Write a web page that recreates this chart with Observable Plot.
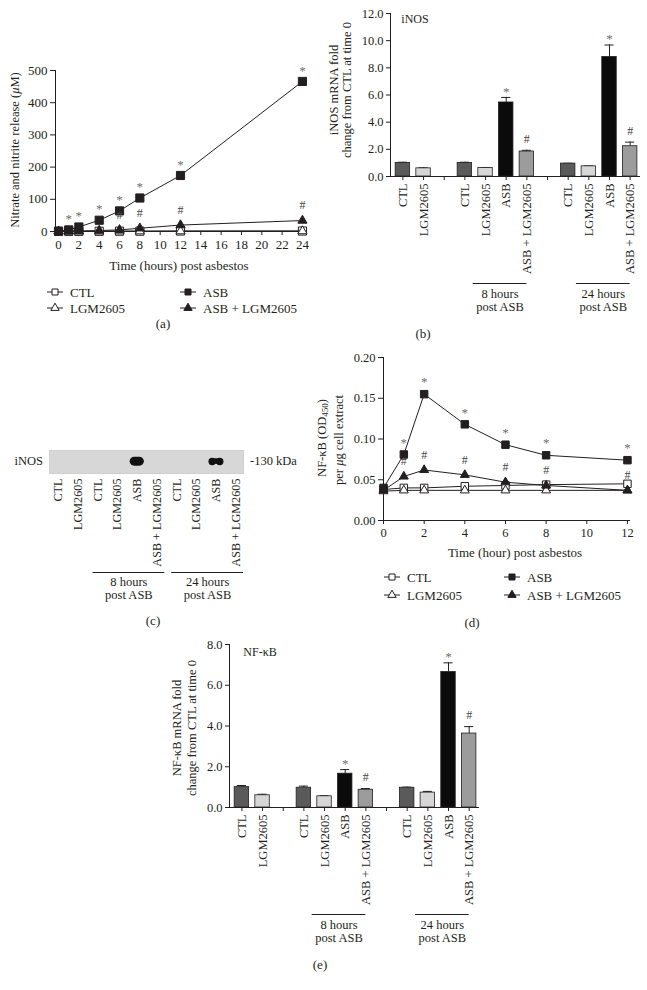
<!DOCTYPE html>
<html>
<head>
<meta charset="utf-8">
<script src="https://cdn.jsdelivr.net/npm/d3@7"></script>
<script src="https://cdn.jsdelivr.net/npm/@observablehq/plot@0.6"></script>
<style>
  html, body { margin: 0; padding: 0; background: #fff; }
  #root { position: relative; width: 647px; height: 990px; overflow: hidden; background: #fff;
          font-family: "Liberation Serif", "Times New Roman", serif; color: #231f20; }
  .lbl { position: absolute; white-space: nowrap; line-height: 1; font-size: 12.5px; }
</style>
</head>
<body>
<div id="root"></div>
<script>
// ================= DATA =================
const seriesNames = ["CTL", "LGM2605", "ASB", "ASB + LGM2605"];

// (a) Nitrate and nitrite release (µM)
const aHours = [0, 1, 2, 4, 6, 8, 12, 24];
const aCTL = [0.5, 0.5, 0.5, 0.8, 1, 1, 1.5, 1.5];
const aLGM = [0.5, 0.5, 0.5, 0.5, 0.8, 1, 1, 1.2];
const aASB = [1, 5, 14, 35, 64, 104, 174, 466];
const aASBLGM = [0.5, 1, 1.5, 3, 5, 10, 20, 34];
const aASBSig = ["", "*", "*", "*", "*", "*", "*", "*"];
const aASBLGMSig = ["", "", "", "", "#", "#", "#", "#"];
const aXTicks = [0, 2, 4, 6, 8, 10, 12, 14, 16, 18, 20, 22, 24];
const aYTicks = [0, 100, 200, 300, 400, 500];

// (b) iNOS mRNA fold change, (e) NF-kB mRNA fold change
const slotCats = ["CTL", "LGM2605", null, "CTL", "LGM2605", "ASB", "ASB + LGM2605", null, "CTL", "LGM2605", "ASB", "ASB + LGM2605"];
const barBrackets = [
  {label: "8 hours\npost ASB", start: 3, end: 6},
  {label: "24 hours\npost ASB", start: 8, end: 11}
];
const inosValues = [1.0, 0.6, null, 1.0, 0.62, 5.45, 1.84, null, 0.95, 0.75, 8.8, 2.23];
const inosErrors = [0.05, 0.04, null, 0.05, 0.04, 0.37, 0.09, null, 0.02, 0.03, 0.88, 0.3];
const inosSig = ["", "", null, "", "", "*", "#", null, "", "", "*", "#"];
const inosYTicks = [0, 2, 4, 6, 8, 10, 12];

const nfkbValues = [1.0, 0.6, null, 0.97, 0.55, 1.66, 0.87, null, 0.97, 0.73, 6.65, 3.63];
const nfkbErrors = [0.08, 0.05, null, 0.08, 0.03, 0.2, 0.06, null, 0.03, 0.06, 0.45, 0.34];
const nfkbSig = ["", "", null, "", "", "*", "#", null, "", "", "*", "#"];
const nfkbYTicks = [0, 2, 4, 6, 8];

// (c) western blot
const blotLanes = ["CTL", "LGM2605", "CTL", "LGM2605", "ASB", "ASB + LGM2605", "CTL", "LGM2605", "ASB", "ASB + LGM2605"];
const blotBand = ["", "", "", "", "oval", "", "", "", "double", ""];
const blotBrackets = [
  {label: "8 hours\npost ASB", start: 2, end: 5},
  {label: "24 hours\npost ASB", start: 6, end: 9}
];

// (d) NF-kB (OD450) per µg cell extract
const dHours = [0, 1, 2, 4, 6, 8, 12];
const dCTL = [0.038, 0.040, 0.040, 0.042, 0.043, 0.044, 0.045];
const dLGM = [0.036, 0.037, 0.037, 0.037, 0.037, 0.037, 0.037];
const dASB = [0.040, 0.081, 0.155, 0.118, 0.093, 0.080, 0.074];
const dASBLGM = [0.037, 0.054, 0.062, 0.056, 0.047, 0.043, 0.037];
const dASBSig = ["", "*", "*", "*", "*", "*", "*"];
const dASBLGMSig = ["", "#", "#", "#", "#", "#", "#"];
const dXTicks = [0, 2, 4, 6, 8, 10, 12];
const dYTicks = [0, 0.05, 0.10, 0.15, 0.20];

// ================= STYLE =================
const INK = "#231f20";
const FONT = '"Liberation Serif", "Times New Roman", serif';
const styleOf = size => `font-family: ${FONT}; font-size: ${size}; color: ${INK}; background: transparent; overflow: visible;`;
const catColors = {"CTL": "#5a5a5a", "LGM2605": "#d6d6d6", "ASB": "#0b0b0b", "ASB + LGM2605": "#9c9c9c"};
const seriesStyle = {
  "CTL": {symbol: "square", fill: "#ffffff"},
  "LGM2605": {symbol: "triangle", fill: "#ffffff"},
  "ASB": {symbol: "square", fill: INK},
  "ASB + LGM2605": {symbol: "triangle", fill: INK}
};

const root = document.getElementById("root");
function place(node, left, top) {
  node.style.position = "absolute";
  node.style.left = left + "px";
  node.style.top = top + "px";
  root.appendChild(node);
}
function label(html, x, y, opts = {}) {
  const d = document.createElement("div");
  d.className = "lbl";
  d.innerHTML = html;
  d.style.left = x + "px";
  d.style.top = y + "px";
  const ax = opts.anchor === "start" ? "0" : opts.anchor === "end" ? "-100%" : "-50%";
  d.style.transform = `translate(${ax},-50%)` + (opts.rotate ? ` rotate(${opts.rotate}deg)` : "");
  if (opts.size) d.style.fontSize = opts.size + "px";
  root.appendChild(d);
}
function legendItem(x, y, name, text) {
  const st = seriesStyle[name];
  const w = 16, h = 12;
  const svg = d3.create("svg").attr("width", w).attr("height", h).style("overflow", "visible");
  svg.append("line").attr("x1", 0).attr("x2", w).attr("y1", h / 2).attr("y2", h / 2).attr("stroke", INK);
  svg.append("path")
    .attr("transform", `translate(${w / 2},${h / 2})`)
    .attr("d", d3.symbol(st.symbol === "square" ? d3.symbolSquare : d3.symbolTriangle, st.symbol === "square" ? 36 : 30)())
    .attr("fill", st.fill).attr("stroke", INK);
  place(svg.node(), x - w / 2, y - h / 2);
  label(text, x + 15, y, {anchor: "start", size: 13});
}

// ================= LINE PANELS =================
function linePanel(cfg) {
  const rows = seriesNames.flatMap((name, k) => cfg.times.map((t, i) => ({
    series: name, t, v: cfg.values[k][i], sig: cfg.sigs[k] ? cfg.sigs[k][i] : ""
  })));
  const marks = [
    Plot.ruleX([cfg.xDomain[0]], {stroke: INK}),
    Plot.ruleY([cfg.yDomain[0]], {stroke: INK}),
    Plot.line(rows, {x: "t", y: "v", z: "series", stroke: INK, strokeWidth: 1})
  ];
  for (const name of ["CTL", "LGM2605", "ASB + LGM2605", "ASB"]) {
    const st = seriesStyle[name];
    marks.push(Plot.dot(rows.filter(d => d.series === name), {
      x: "t", y: "v", symbol: st.symbol, r: st.symbol === "square" ? cfg.rSquare : cfg.rTri,
      fill: st.fill, stroke: INK, strokeWidth: 1
    }));
  }
  marks.push(Plot.text(rows.filter(d => d.sig === "*"), {x: "t", y: "v", text: "sig", dy: cfg.starDy, fill: "#6e6e6e", fontSize: 13}));
  marks.push(Plot.text(rows.filter(d => d.sig === "#"), {x: "t", y: "v", text: "sig", dy: cfg.hashDy, fill: "#444", fontSize: 12}));
  return Plot.plot({
    width: cfg.width, height: cfg.height,
    marginLeft: cfg.ml, marginRight: cfg.mr, marginTop: cfg.mt, marginBottom: cfg.mb,
    style: styleOf(cfg.font),
    x: {domain: cfg.xDomain, ticks: cfg.xTicks, tickSize: 4, tickPadding: 4, label: null},
    y: {domain: cfg.yDomain, ticks: cfg.yTicks, tickFormat: cfg.yFormat, tickSize: 5, tickPadding: 3, label: null},
    marks
  });
}

// ================= BAR PANELS =================
const slotTicks = d3.range(slotCats.length);
const barXDomain = [-0.6, 11.5];
function barPanel(cfg) {
  const rows = cfg.values.map((v, i) => ({slot: i, v, e: cfg.errors[i], sig: cfg.sig[i], cat: slotCats[i]}))
    .filter(d => d.v != null);
  return Plot.plot({
    width: cfg.width, height: cfg.height,
    marginLeft: cfg.ml, marginRight: cfg.mr, marginTop: cfg.mt, marginBottom: cfg.mb,
    style: styleOf("12.5px"),
    color: {type: "identity"},
    x: {domain: barXDomain, ticks: slotTicks, tickFormat: i => slotCats[i] ?? "", tickRotate: -90, tickSize: 4, tickPadding: 3, label: null},
    y: {domain: [0, cfg.yMax], ticks: cfg.yTicks, tickFormat: d3.format(".1f"), tickSize: 4, tickPadding: 3, label: null},
    marks: [
      Plot.ruleX([barXDomain[0]], {stroke: INK}),
      Plot.ruleY([0], {stroke: INK}),
      Plot.ruleX(rows, {x: "slot", y1: "v", y2: d => d.v + d.e, stroke: INK}),
      Plot.ruleY(rows, {y: d => d.v + d.e, x1: d => d.slot - 0.22, x2: d => d.slot + 0.22, stroke: INK}),
      Plot.rect(rows, {x1: d => d.slot - 0.35, x2: d => d.slot + 0.35, y1: () => 0, y2: "v",
        fill: d => catColors[d.cat], stroke: INK, strokeWidth: 0.8}),
      Plot.text(rows.filter(d => d.sig === "*"), {x: "slot", y: d => d.v + d.e, text: "sig", dy: -6, fill: "#6e6e6e", fontSize: 13}),
      Plot.text(rows.filter(d => d.sig === "#"), {x: "slot", y: d => d.v + d.e, text: "sig", dy: -11, fill: "#444", fontSize: 12}),
      Plot.ruleY(barBrackets, {x1: d => d.start + 0.4, x2: d => d.end, y: () => 0, dy: 107, stroke: INK, strokeWidth: 1.2}),
      Plot.text(barBrackets, {x: d => (d.start + 0.4 + d.end) / 2, y: () => 0, dy: 113, text: "label",
        lineAnchor: "top", lineHeight: 1.0, fontSize: 12.5, fill: INK})
    ]
  });
}

// ---------- (a) ----------
place(linePanel({
  times: aHours, values: [aCTL, aLGM, aASB, aASBLGM], sigs: [null, null, aASBSig, aASBLGMSig],
  width: 323, height: 260, ml: 55, mr: 18, mt: 70, mb: 29, font: "13px",
  xDomain: [-0.3, 24.3], yDomain: [0, 500], xTicks: aXTicks, yTicks: aYTicks, yFormat: d3.format("d"),
  rSquare: 4.6, rTri: 3.4, starDy: -11, hashDy: -15
}), 0, 0);
label("Nitrate and nitrite release (<i>μ</i>M)", 15, 150, {rotate: -90});
label("Time (hours) post asbestos", 179, 265, {size: 13});
legendItem(55, 292, "CTL", "CTL");
legendItem(55, 308, "LGM2605", "LGM2605");
legendItem(188, 292, "ASB", "ASB");
legendItem(188, 308, "ASB + LGM2605", "ASB + LGM2605");
label("(a)", 163, 323, {size: 13});

// ---------- (b) ----------
place(barPanel({
  values: inosValues, errors: inosErrors, sig: inosSig,
  width: 317, height: 320, ml: 60, mr: 7, mt: 13, mb: 144, yMax: 12, yTicks: inosYTicks
}), 330, 0);
label("iNOS mRNA fold", 334, 90, {rotate: -90});
label("change from CTL at time 0", 347, 90, {rotate: -90});
label("iNOS", 415, 19, {size: 12});
label("(b)", 423, 333, {size: 13});

// ---------- (c) ----------
const blotXDomain = [-0.46, 9.4];
const blotRows = blotLanes.map((name, i) => ({lane: i, name, band: blotBand[i]}));
place(Plot.plot({
  width: 330, height: 180, marginLeft: 49, marginRight: 87, marginTop: 20, marginBottom: 137,
  style: styleOf("12.2px"),
  x: {domain: blotXDomain, ticks: d3.range(blotLanes.length), tickFormat: i => blotLanes[i], tickRotate: -90, tickSize: 0, tickPadding: 5, label: null},
  y: {domain: [0, 1], axis: null},
  marks: [
    Plot.frame({fill: "#d7d7d7", stroke: "#cfcfcf"}),
    Plot.rect(blotRows.filter(d => d.band === "oval"), {x1: d => d.lane - 0.36, x2: d => d.lane + 0.36, y1: () => 0.32, y2: () => 0.71, rx: 4.5, fill: "#111"}),
    Plot.dot(blotRows.filter(d => d.band === "double"), {x: "lane", y: () => 0.52, r: 3.7, dx: -3.8, fill: "#111"}),
    Plot.dot(blotRows.filter(d => d.band === "double"), {x: "lane", y: () => 0.52, r: 3.7, dx: 3.8, fill: "#111"}),
    Plot.rect(blotRows.filter(d => d.band === "double"), {x1: d => d.lane - 0.2, x2: d => d.lane + 0.2, y1: () => 0.4, y2: () => 0.64, fill: "#111"}),
    Plot.ruleY(blotBrackets, {x1: d => d.start - 0.25, x2: d => d.end + 0.4, y: () => 0, dy: 99, stroke: INK, strokeWidth: 1.2}),
    Plot.text(blotBrackets, {x: d => (d.start - 0.25 + d.end + 0.4) / 2, y: () => 0, dy: 104, text: "label",
      lineAnchor: "top", lineHeight: 1.0, fontSize: 12.5, fill: INK})
  ]
}), 0, 430);
label("iNOS", 43, 461, {anchor: "end"});
label("-130 kDa", 250, 461, {anchor: "start"});
label("(c)", 153, 620, {size: 13});

// ---------- (d) ----------
place(linePanel({
  times: dHours, values: [dCTL, dLGM, dASB, dASBLGM], sigs: [null, null, dASBSig, dASBLGMSig],
  width: 329, height: 205, ml: 65, mr: 17, mt: 17, mb: 25, font: "12.5px",
  xDomain: [0, 12.15], yDomain: [0, 0.2], xTicks: dXTicks, yTicks: dYTicks, yFormat: d3.format(".2f"),
  rSquare: 4.2, rTri: 3.3, starDy: -12, hashDy: -15
}), 318, 340);
label("NF-κB (OD<span style=\"font-size:0.72em;vertical-align:-0.3em\">450</span>)", 323, 438, {rotate: -90});
label("per <i>μ</i>g cell extract", 339, 440, {rotate: -90});
label("Time (hour) post asbestos", 515, 552, {size: 13});
legendItem(392, 577, "CTL", "CTL");
legendItem(392, 595, "LGM2605", "LGM2605");
legendItem(512, 577, "ASB", "ASB");
legendItem(512, 595, "ASB + LGM2605", "ASB + LGM2605");
label("(d)", 472, 622, {size: 13});

// ---------- (e) ----------
place(barPanel({
  values: nfkbValues, errors: nfkbErrors, sig: nfkbSig,
  width: 340, height: 320, ml: 79, mr: 11, mt: 14, mb: 143, yMax: 8, yTicks: nfkbYTicks
}), 150, 630);
label("NF-κB mRNA fold", 177, 728, {rotate: -90});
label("change from CTL at time 0", 192, 728, {rotate: -90});
label("NF-κB", 260, 652, {size: 12});
label("(e)", 320, 964, {size: 13});
</script>
</body>
</html>
